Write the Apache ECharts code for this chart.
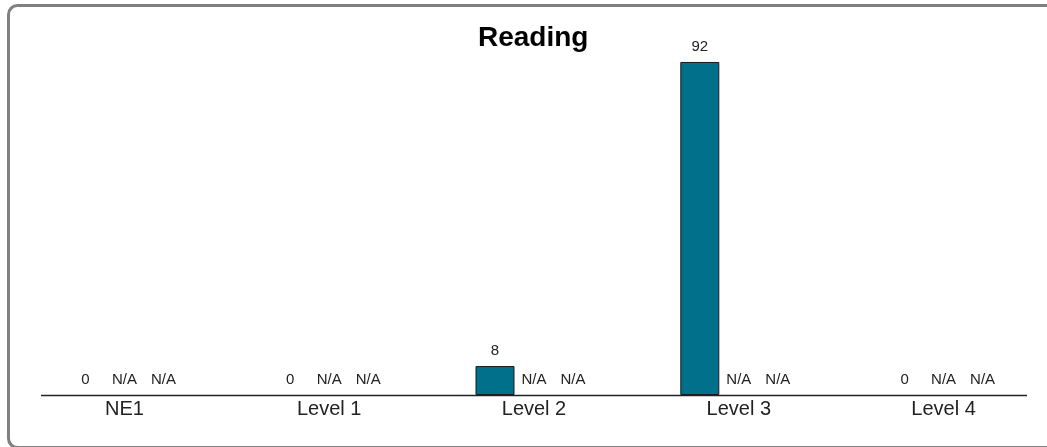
<!DOCTYPE html>
<html>
<head>
<meta charset="utf-8">
<script src="https://cdn.jsdelivr.net/npm/echarts@6/dist/echarts.min.js"></script>
<style>
html,body{margin:0;padding:0;background:#fff;}
#main{width:1047px;height:447px;}
</style>
</head>
<body>
<div id="main"></div>
<script>
var title = 'Reading';
var categories = ['NE1', 'Level 1', 'Level 2', 'Level 3', 'Level 4'];
var seriesA = [0, 0, 8, 92, 0];
var seriesB = [null, null, null, null, null];
var seriesC = [null, null, null, null, null];

function toData(arr) {
  return arr.map(function (v) {
    if (v == null) return { value: 0, label: { formatter: 'N/A' }, itemStyle: { borderWidth: 0 } };
    if (v === 0) return { value: 0, itemStyle: { borderWidth: 0 } };
    return v;
  });
}
var font = '"Liberation Sans", Arial, sans-serif';
function mk(name, arr) {
  return {
    name: name,
    type: 'bar',
    data: toData(arr),
    barWidth: 39,
    barGap: '0%',
    itemStyle: { color: '#00708B', borderColor: '#1a1a1a', borderWidth: 1 },
    label: { show: true, position: 'top', distance: 8, color: '#222', fontSize: 15, fontFamily: font },
    animation: false
  };
}
var chart = echarts.init(document.getElementById('main'));
chart.setOption({
  animation: false,
  title: { text: title, left: 473, top: 19, textStyle: { fontSize: 28, fontWeight: 'bold', color: '#000', fontFamily: font } },
  grid: { left: 22, right: 1, top: 33, bottom: 52 },
  xAxis: {
    type: 'category', data: categories,
    axisLine: { show: false }, axisTick: { show: false },
    axisLabel: { fontSize: 20, color: '#222', margin: 4, fontFamily: font }
  },
  yAxis: { type: 'value', min: 0, max: 100, show: false, splitLine: { show: false } },
  graphic: [
    { type: 'rect', z: 100, silent: true,
      shape: { x: 8.5, y: 5.5, width: 1060, height: 442, r: 9 },
      style: { fill: 'none', stroke: '#808080', lineWidth: 3 } },
    { type: 'line', z: 50, silent: true,
      shape: { x1: 41, y1: 395.5, x2: 1027, y2: 395.5 },
      style: { stroke: '#222', lineWidth: 1.5 } }
  ],
  series: [mk('A', seriesA), mk('B', seriesB), mk('C', seriesC)]
});
</script>
</body>
</html>
